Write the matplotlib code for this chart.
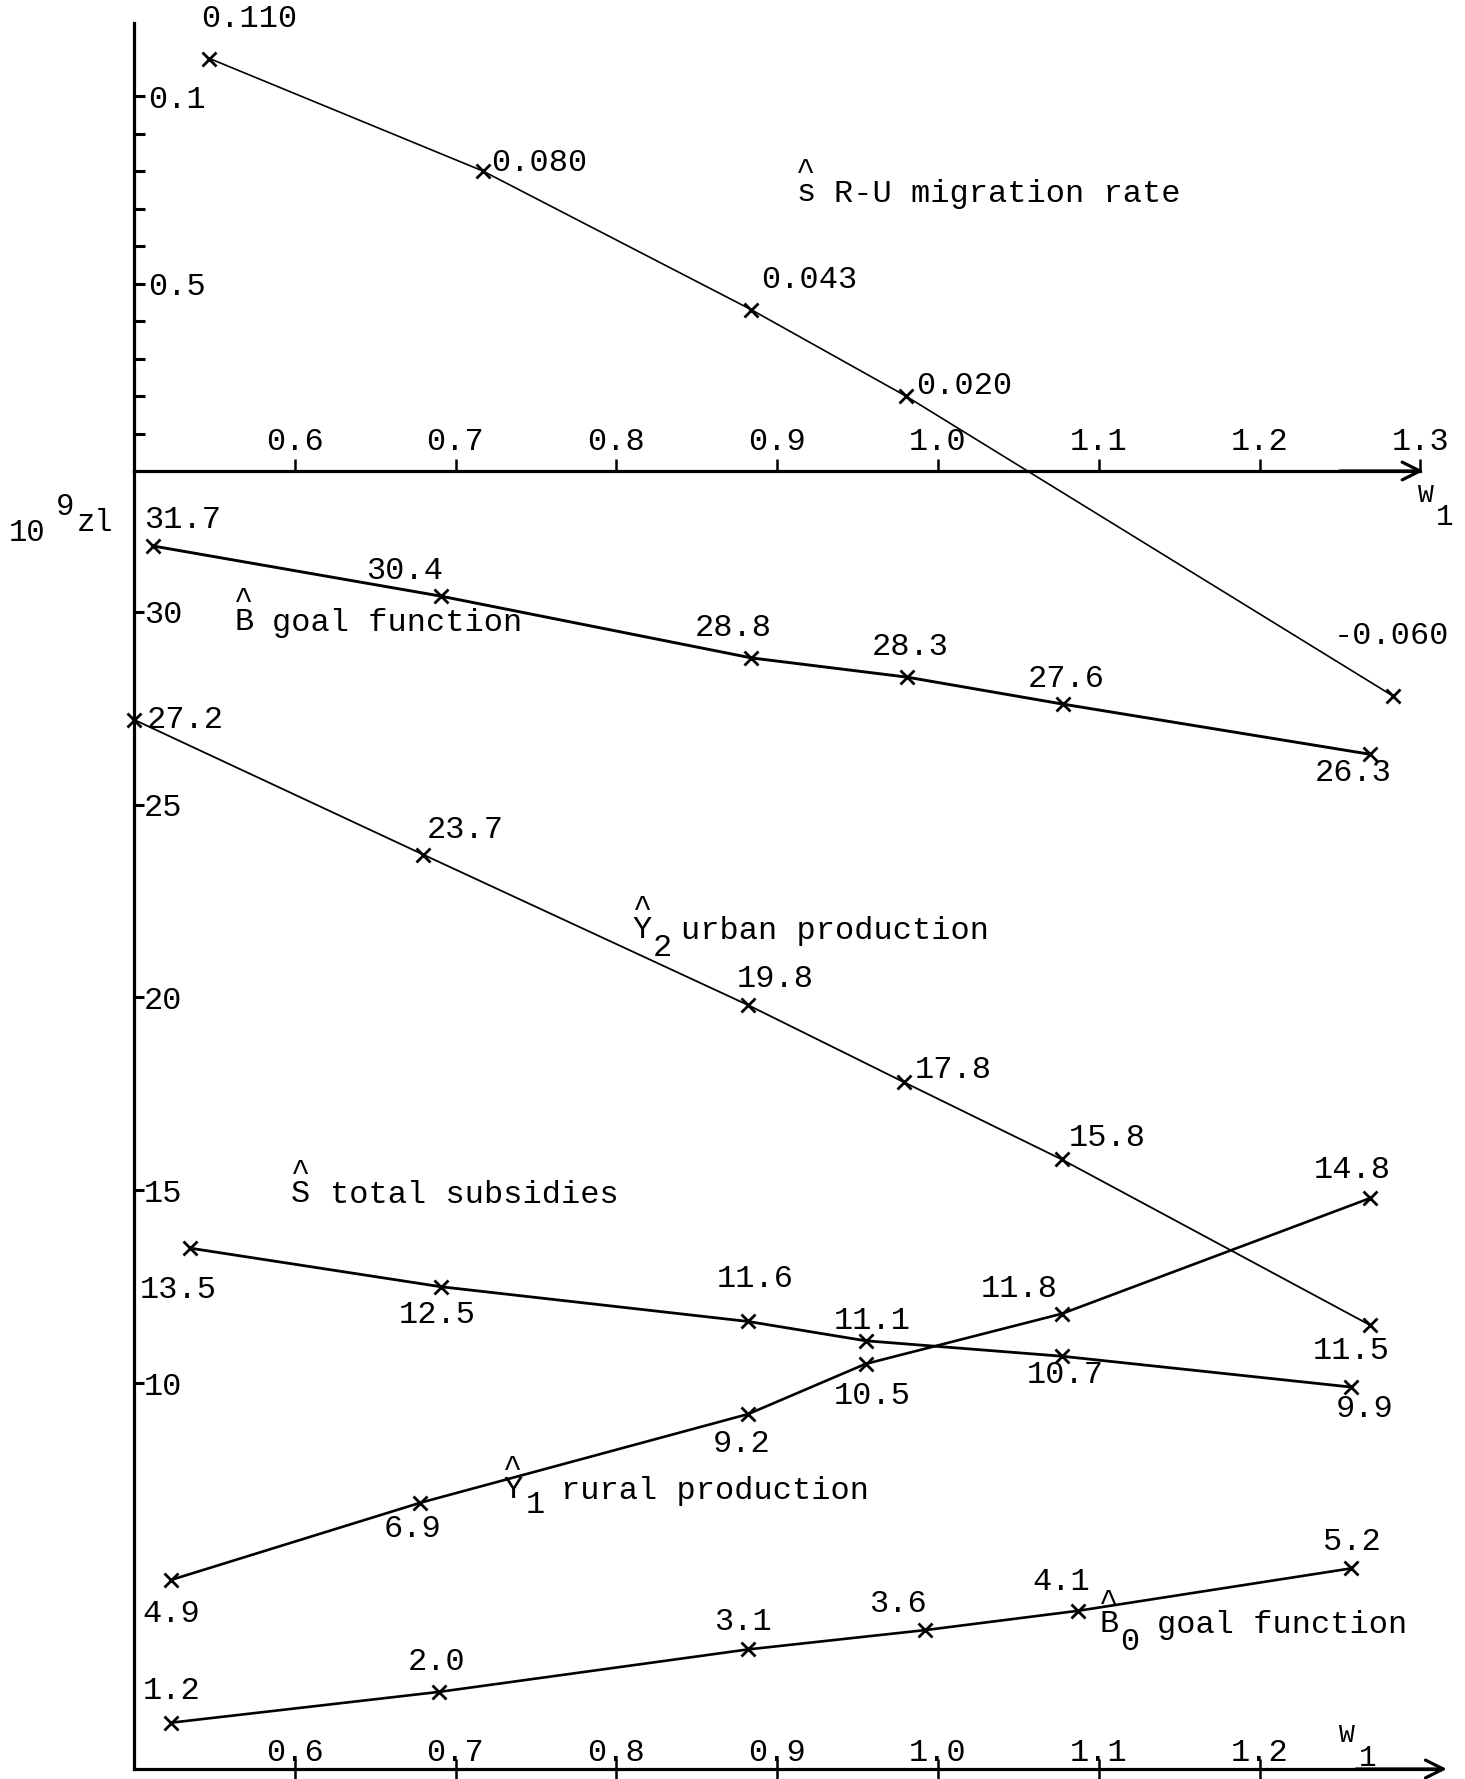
import matplotlib
matplotlib.use('Agg')
import matplotlib.pyplot as plt

FONT = ['Liberation Mono', 'DejaVu Sans Mono']
plt.rcParams['font.family'] = FONT
FS = 23

W, H = 1465, 1779
K = W / 1291.0

# ---------------- data ----------------
# top panel: R-U migration rate
w_rate = [0.547, 0.717, 0.884, 0.980, 1.283]
rate = [0.110, 0.080, 0.043, 0.020, -0.060]
rate_lbl = ["0.110", "0.080", "0.043", "0.020", "-0.060"]

# bottom panel (10^9 zl)
w_B = [0.512, 0.691, 0.884, 0.981, 1.078, 1.269]
B = [31.7, 30.4, 28.8, 28.3, 27.6, 26.3]
w_Y2 = [0.500, 0.680, 0.882, 0.979, 1.077, 1.269]
Y2 = [27.2, 23.7, 19.8, 17.8, 15.8, 11.5]
w_S = [0.535, 0.691, 0.882, 0.955, 1.077, 1.257]
S = [13.5, 12.5, 11.6, 11.1, 10.7, 9.9]
w_Y1 = [0.523, 0.678, 0.882, 0.955, 1.077, 1.269]
Y1 = [4.9, 6.9, 9.2, 10.5, 11.8, 14.8]
w_B0 = [0.523, 0.690, 0.882, 0.992, 1.087, 1.257]
B0 = [1.2, 2.0, 3.1, 3.6, 4.1, 5.2]

top_xticks = [0.6, 0.7, 0.8, 0.9, 1.0, 1.1, 1.2, 1.3]
top_xticklabels = ["0.6", "0.7", "0.8", "0.9", "1.0", "1.1", "1.2", "1.3"]
bot_xticks = [0.6, 0.7, 0.8, 0.9, 1.0, 1.1, 1.2]
bot_xticklabels = ["0.6", "0.7", "0.8", "0.9", "1.0", "1.1", "1.2"]
top_yticks = [0.01, 0.02, 0.03, 0.04, 0.05, 0.06, 0.07, 0.08, 0.09, 0.10]
top_yticklabels = ["", "", "", "", "0.5", "", "", "", "", "0.1"]
bot_yticks = [10, 15, 20, 25, 30]
bot_yticklabels = ["10", "15", "20", "25", "30"]

# label offsets (reference px, relative to the marker)
off_rate = [(-7, 35), (7, 7), (9, 26), (9, 9), (-52, 53)]
off_B = [(-8, 23), (-66, 22), (-50, 26), (-31, 27), (-31, 22), (-49, -16)]
off_Y2 = [(11, 0), (3, 22), (-10, 23), (9, 11), (6, 19), (-51, -23)]
off_S = [(-44, -37), (-37, -25), (-28, 37), (-28, 17), (-31, -17), (-14, -19)]
off_Y1 = [(-25, -30), (-32, -23), (-31, -26), (-28, -28), (-71, 22), (-50, 25)]
off_B0 = [(-25, 28), (-28, 26), (-30, 24), (-49, 23), (-40, 25), (-25, 23)]

# ---------------- figure ----------------
fig = plt.figure(figsize=(W / 100, H / 100), dpi=100)
XMIN, XMAX = 0.5, 1.32
XPX = 1608.0          # px per unit of W1
left = 133.9 / W
width = (XMAX - XMIN) * XPX / W

# bottom panel
y0_bot = 1769.0
ypx_bot = 38.58
top_bot = 471.0
ax = fig.add_axes([left, (H - y0_bot) / H, width, (y0_bot - top_bot) / H])
ax.set_xlim(XMIN, XMAX)
ax.set_ylim(0, (y0_bot - top_bot) / ypx_bot)

# top panel
ypx_top = 3750.0
y0_top = 471.0
ytop_edge = 22.7
ybot_edge = 733.5
axt = fig.add_axes([left, (H - ybot_edge) / H, width, (ybot_edge - ytop_edge) / H])
axt.set_xlim(XMIN, XMAX)
axt.set_ylim(-(ybot_edge - y0_top) / ypx_top, (y0_top - ytop_edge) / ypx_top)
axt.patch.set_alpha(0)

AXLW = 2.3
for a in (ax, axt):
    a.spines['top'].set_visible(False)
    a.spines['right'].set_visible(False)
    a.spines['left'].set_linewidth(AXLW)
    a.spines['bottom'].set_linewidth(AXLW)

axt.spines['bottom'].set_position(('data', 0))
axt.spines['left'].set_bounds(0, axt.get_ylim()[1])
axt.spines['bottom'].set_bounds(XMIN, 1.30)
ax.spines['bottom'].set_bounds(XMIN, 1.31)

# arrows on the W1 axes
arr = dict(arrowstyle='->', lw=AXLW, mutation_scale=32, color='black',
           shrinkA=0, shrinkB=0)
axt.annotate('', xy=(1.302, 0), xytext=(1.25, 0), arrowprops=arr,
             annotation_clip=False)
ax.annotate('', xy=(1.3165, 0), xytext=(1.26, 0), arrowprops=arr,
            annotation_clip=False)

# ticks
axt.set_xticks(top_xticks)
axt.set_xticklabels(top_xticklabels, va='baseline')
axt.tick_params(axis='x', direction='in', length=9, width=1.8, pad=-15,
                labelsize=FS)
axt.set_yticks(top_yticks)
axt.set_yticklabels(top_yticklabels, ha='left')
axt.tick_params(axis='y', direction='in', length=8, width=2.2, pad=-10,
                labelsize=FS)

ax.set_xticks(bot_xticks)
ax.set_xticklabels(bot_xticklabels, va='baseline')
ax.tick_params(axis='x', direction='inout', length=14, width=1.8, pad=-13,
               labelsize=FS)
ax.set_yticks(bot_yticks)
ax.set_yticklabels(bot_yticklabels, ha='left')
ax.tick_params(axis='y', direction='in', length=7, width=2.2, pad=-7,
               labelsize=FS)

# ---------------- series ----------------
MS = 10
def series(a, xs, ys, lw, offs, labels=None):
    a.plot(xs, ys, color='black', lw=lw, marker='x', ms=MS, mew=2.0,
           clip_on=False, solid_capstyle='butt')
    for i, (x, y) in enumerate(zip(xs, ys)):
        s = labels[i] if labels else f"{y:.1f}"
        dx, dy = offs[i]
        a.annotate(s, (x, y), xytext=(dx * K, dy * K), textcoords='offset pixels',
                   ha='left', va='center', fontsize=FS, annotation_clip=False)

series(axt, w_rate, rate, 1.2, off_rate, rate_lbl)
series(ax, w_B, B, 2.1, off_B)
series(ax, w_Y2, Y2, 1.3, off_Y2)
series(ax, w_S, S, 2.0, off_S)
series(ax, w_Y1, Y1, 1.9, off_Y1)
series(ax, w_B0, B0, 1.9, off_B0)

# ---------------- free text (reference px positions) ----------------
def ftext(xs, ys, s, ha='left', va='center', size=FS, **kw):
    fig.text(xs * K / W, 1 - ys * K / H, s, ha=ha, va=va, fontsize=size, **kw)

def hatted(xs, ys, letter):
    """letter with a circumflex written above it (typewriter style);
    (xs, ys) = centre of the letter in reference px."""
    ftext(xs, ys - 10, "^\n" + letter, ha='center', va='center',
          multialignment='center', linespacing=0.62)

# 10^9 zl
ftext(8, 470, "10", size=22)
ftext(49, 447, "9", size=22)
ftext(68, 461, "zl", size=22)

# s R-U migration rate
hatted(710, 171, "s")
ftext(735, 171, "R-U migration rate")
# B goal function
hatted(215, 549, "B")
ftext(240, 549, "goal function")
# Y2 urban production
hatted(566, 820, "Y")
ftext(584, 835, "2", ha='center')
ftext(600, 820, "urban production")
# S total subsidies
hatted(265, 1053, "S")
ftext(291, 1053, "total subsidies")
# Y1 rural production
hatted(452, 1314, "Y")
ftext(472, 1326, "1", ha='center')
ftext(494, 1314, "rural production")
# B0 goal function
hatted(977, 1432, "B")
ftext(996, 1447, "0", ha='center')
ftext(1020, 1432, "goal function")

# W1 labels
ftext(1257, 436, "W", ha='center', size=19)
ftext(1273, 456, "1", ha='center', size=21)
ftext(1187, 1529, "W", ha='center', size=19)
ftext(1205, 1549, "1", ha='center', size=21)

fig.savefig('out.png', dpi=100, facecolor='white')
